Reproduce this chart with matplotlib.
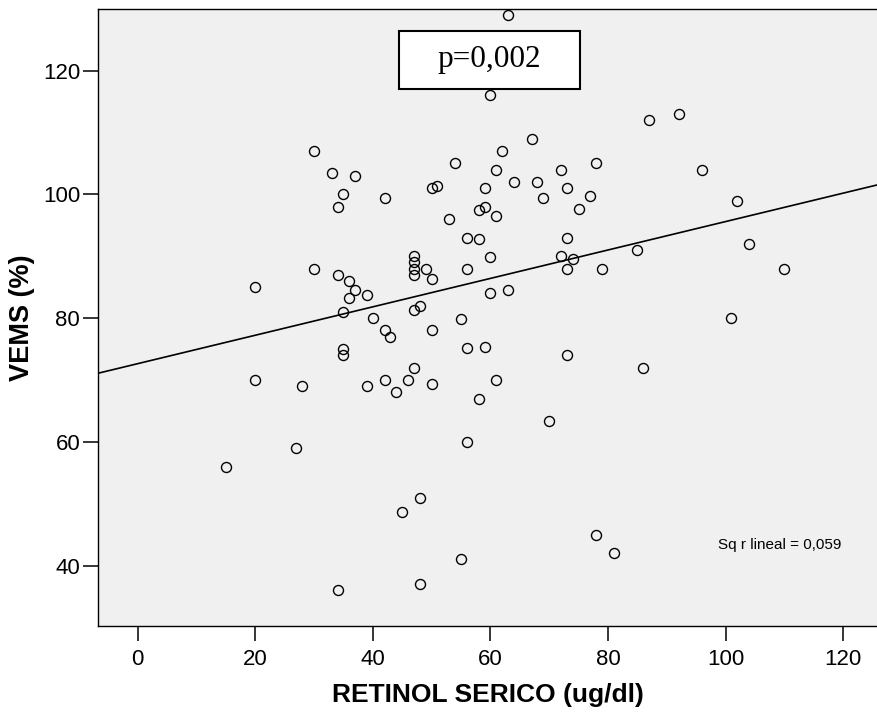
import numpy as np
import matplotlib
matplotlib.use("Agg")
import matplotlib.pyplot as plt
from matplotlib.patches import Rectangle

plt.rcParams['font.family'] = ['Liberation Sans', 'DejaVu Sans']

# Serum retinol (ug/dl) and FEV1 (% predicted) per patient
retinol = [15, 20, 20, 27, 28, 30, 30, 33, 34, 34, 34, 35, 35, 35, 35, 36, 36, 37, 37,
           39, 39, 40, 42, 42, 42, 43, 44, 45, 46, 47, 47, 47, 47, 47, 47, 48, 48, 48,
           49, 50, 50, 50, 50, 51, 53, 54, 55, 55, 56, 56, 56, 56, 58, 58, 58, 59, 59,
           59, 60, 60, 60, 61, 61, 61, 62, 63, 63, 64, 67, 68, 69, 70, 72, 72, 73, 73,
           73, 73, 74, 75, 77, 78, 78, 79, 81, 85, 86, 87, 92, 96, 101, 102, 104, 110]
vems = [56, 85, 70, 59, 69, 107, 88, 103.4, 98, 87, 36, 100, 81, 75, 74, 86, 83.3, 103, 84.6,
        83.7, 69, 80, 99.4, 78, 70, 77, 68, 48.7, 70, 90, 89, 88, 87, 81.3, 72, 82, 51, 37,
        88, 101, 86.4, 78, 69.4, 101.3, 96, 105, 79.8, 41, 93, 88, 75.1, 60, 97.5, 92.8, 67, 101, 98,
        75.3, 116, 89.9, 84, 104, 96.5, 70, 107, 129, 84.5, 102, 109, 102, 99.4, 63.3, 104, 90, 101, 93,
        88, 74, 89.5, 97.7, 99.8, 105, 45, 88, 42, 91, 72, 112, 113, 104, 80, 99, 92, 88]

# Linear fit reported for the whole sample
fit_intercept = 72.64
fit_slope = 0.2296
r_squared_label = 'Sq r lineal = 0,059'
p_label = 'p=0,002'

x_ticks = [0, 20, 40, 60, 80, 100, 120]
y_ticks = [40, 60, 80, 100, 120]
x_lim = (-6.7, 125.9)
y_lim = (30.3, 129.9)

W, H = 877, 715
fig = plt.figure(figsize=(W / 100, H / 100), dpi=100)
fig.patch.set_facecolor('white')
ax = fig.add_axes([98.3 / W, 1 - 625.7 / H, (877.8 - 98.3) / W, (625.7 - 9.3) / H])
ax.set_facecolor('#f0f0f0')

x = np.array(retinol, dtype=float)
y = np.array(vems, dtype=float)

ax.plot(x, y, linestyle='none', marker='o', markersize=7.2,
        markerfacecolor='none', markeredgecolor='black', markeredgewidth=1.0,
        clip_on=False, zorder=3)

xl = np.array(x_lim)
ax.plot(xl, fit_intercept + fit_slope * xl, color='black', linewidth=1.2, zorder=2)

ax.set_xlim(*x_lim)
ax.set_ylim(*y_lim)
ax.set_xticks(x_ticks)
ax.set_yticks(y_ticks)
ax.tick_params(axis='both', direction='out', length=11, width=1.1, colors='black',
               labelsize=16)
ax.tick_params(axis='x', pad=6)
ax.tick_params(axis='y', pad=2)
for s in ax.spines.values():
    s.set_linewidth(1.0)
    s.set_color('black')

ax.set_xlabel('RETINOL SERICO (ug/dl)', fontsize=19, fontweight='bold', labelpad=9)
ax.set_ylabel('VEMS (%)', fontsize=19.5, fontweight='bold', labelpad=6)

# Annotation box with the p-value
fig.patches.append(Rectangle((399 / W, 1 - 89 / H), (579.5 - 399) / W, (89 - 30.7) / H,
                             transform=fig.transFigure, facecolor='white',
                             edgecolor='black', linewidth=1.5, zorder=5))
fig.text(489.5 / W, 1 - 60 / H, p_label, family='Liberation Serif', fontsize=22.5,
         ha='center', va='center', zorder=6)

ax.text(718 / W, 1 - 545 / H, r_squared_label, transform=fig.transFigure,
        fontsize=11, ha='left', va='center')

fig.savefig('out.png', dpi=100)
